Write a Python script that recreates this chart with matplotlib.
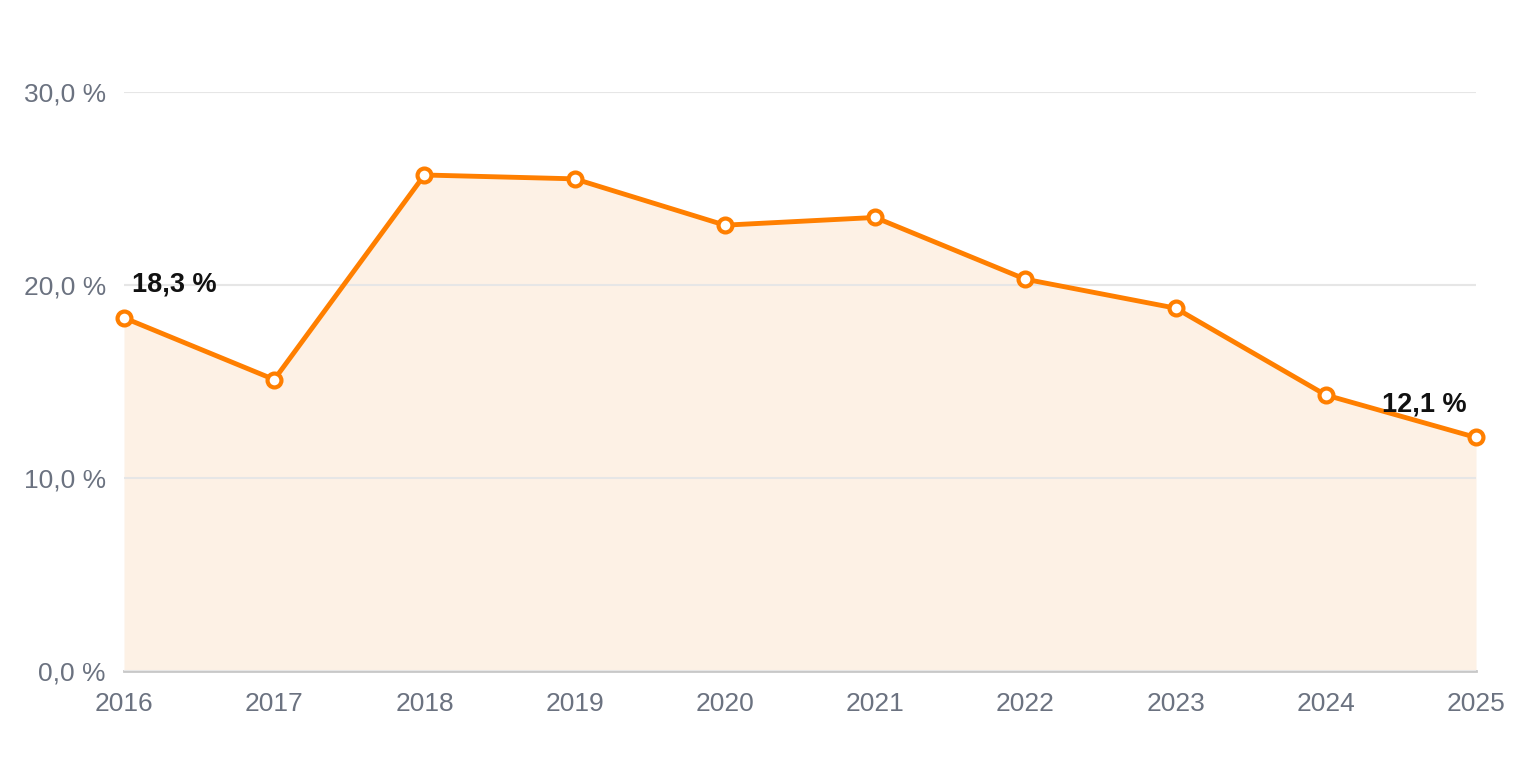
import matplotlib.pyplot as plt
from matplotlib.ticker import FuncFormatter

years = [2016, 2017, 2018, 2019, 2020, 2021, 2022, 2023, 2024, 2025]
values = [18.3, 15.1, 25.7, 25.5, 23.1, 23.5, 20.3, 18.8, 14.3, 12.1]
yticks = [0, 10, 20, 30]

plt.rcParams['font.family'] = ['Liberation Sans', 'DejaVu Sans']

orange = '#ff7f00'
grey = '#6b7280'

fig = plt.figure(figsize=(15.2, 7.6), dpi=100)
ax = fig.add_axes([124 / 1520, 1 - 671 / 760, (1476 - 124) / 1520, (671 - 92) / 760])

ax.fill_between(years, values, 0, color='#fdf1e5', zorder=1, linewidth=0)
ax.plot(years, values, color=orange, lw=3.5, zorder=3,
        marker='o', ms=10, mfc='white', mec=orange, mew=3, clip_on=False)

ax.set_xlim(years[0], years[-1])
ax.set_ylim(0, 30)
ax.set_xticks(years)
ax.set_yticks(yticks)
ax.yaxis.set_major_formatter(FuncFormatter(lambda v, p: f"{v:.1f} %".replace('.', ',')))

for s in ['top', 'right', 'left']:
    ax.spines[s].set_visible(False)
ax.spines['bottom'].set_color('#c8c8c8')
ax.spines['bottom'].set_linewidth(2)
ax.grid(axis='y', color='#e6e6e6', lw=1.5, zorder=2)
ax.set_axisbelow(False)
ax.tick_params(axis='both', length=0, colors=grey, labelsize=19)
ax.tick_params(axis='x', pad=15)
ax.tick_params(axis='y', pad=13)

# end labels
ax.annotate(f"{values[0]:.1f} %".replace('.', ','), (years[0], values[0]),
            xytext=(6, 24), textcoords='offset points', ha='left', va='center',
            fontsize=19.5, fontweight='bold', color='#111111', zorder=5)
ax.annotate(f"{values[-1]:.1f} %".replace('.', ','), (years[-1], values[-1]),
            xytext=(-7, 24), textcoords='offset points', ha='right', va='center',
            fontsize=19.5, fontweight='bold', color='#111111', zorder=5)

plt.savefig("out.png", dpi=100)
